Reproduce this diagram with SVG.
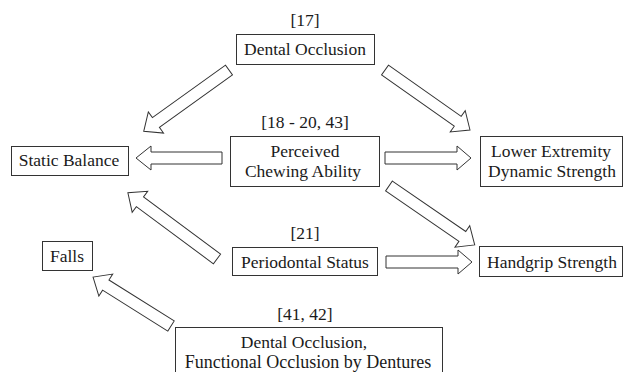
<svg xmlns="http://www.w3.org/2000/svg" width="624" height="372" viewBox="0 0 624 372">
<style>
.box{fill:#fff;stroke:#333;stroke-width:1}
text{font-family:'Liberation Serif','Times New Roman','DejaVu Serif',serif;font-size:17.5px;fill:#1a1a1a;text-anchor:middle}
.arr{fill:#fff;stroke:#333;stroke-width:1;stroke-linejoin:miter}
</style>
<rect width="624" height="372" fill="#fff"/>
<g id="connectors" class="arr">
<path transform="translate(229,70) rotate(144.3)" d="M0,-6 L90,-6 L90,-13 L105,0 L90,13 L90,6 L0,6 Z"/>
<path transform="translate(385,70) rotate(35.2)" d="M0,-6 L89,-6 L89,-13 L104,0 L89,13 L89,6 L0,6 Z"/>
<path transform="translate(222,158) rotate(180)" d="M0,-6 L71,-6 L71,-12 L86,0 L71,12 L71,6 L0,6 Z"/>
<path transform="translate(385,158)" d="M0,-6 L72,-6 L72,-12 L86,0 L72,12 L72,6 L0,6 Z"/>
<path transform="translate(389,186) rotate(34.5)" d="M0,-6 L89,-6 L89,-13 L104,0 L89,13 L89,6 L0,6 Z"/>
<path transform="translate(217,259) rotate(216.6)" d="M0,-6 L96,-6 L96,-13 L111,0 L96,13 L96,6 L0,6 Z"/>
<path transform="translate(386,262)" d="M0,-6 L72,-6 L72,-12 L86,0 L72,12 L72,6 L0,6 Z"/>
<path transform="translate(171,326) rotate(212.1)" d="M0,-6 L77,-6 L77,-13 L92,0 L77,13 L77,6 L0,6 Z"/>
</g>
<g id="dental-occlusion">
<text x="305" y="26">[17]</text>
<rect class="box" x="236.5" y="34.5" width="138" height="30"/>
<text x="305" y="55">Dental Occlusion</text>
</g>
<g id="static-balance">
<rect class="box" x="11.5" y="146.5" width="117" height="29"/>
<text x="69" y="166">Static Balance</text>
</g>
<g id="perceived-chewing">
<text x="305" y="128">[18 - 20, 43]</text>
<rect class="box" x="230.5" y="136.5" width="149" height="50"/>
<text x="305" y="157">Perceived</text>
<text x="303" y="177">Chewing Ability</text>
</g>
<g id="lower-extremity">
<rect class="box" x="480.5" y="136.5" width="142" height="50"/>
<text x="551" y="157">Lower Extremity</text>
<text x="552" y="177">Dynamic Strength</text>
</g>
<g id="handgrip">
<rect class="box" x="479.5" y="246.5" width="143" height="30"/>
<text x="552" y="268">Handgrip Strength</text>
</g>
<g id="periodontal">
<text x="305" y="239">[21]</text>
<rect class="box" x="232.5" y="247.5" width="145" height="28"/>
<text x="305" y="268">Periodontal Status</text>
</g>
<g id="falls">
<rect class="box" x="42.5" y="241.5" width="50" height="29"/>
<text x="67" y="262">Falls</text>
</g>
<g id="dentures">
<text x="305" y="320">[41, 42]</text>
<rect class="box" x="175.5" y="327.5" width="267" height="60"/>
<text x="304" y="348">Dental Occlusion,</text>
<text x="308" y="368" style="font-size:18px">Functional Occlusion by Dentures</text>
</g>
</svg>
